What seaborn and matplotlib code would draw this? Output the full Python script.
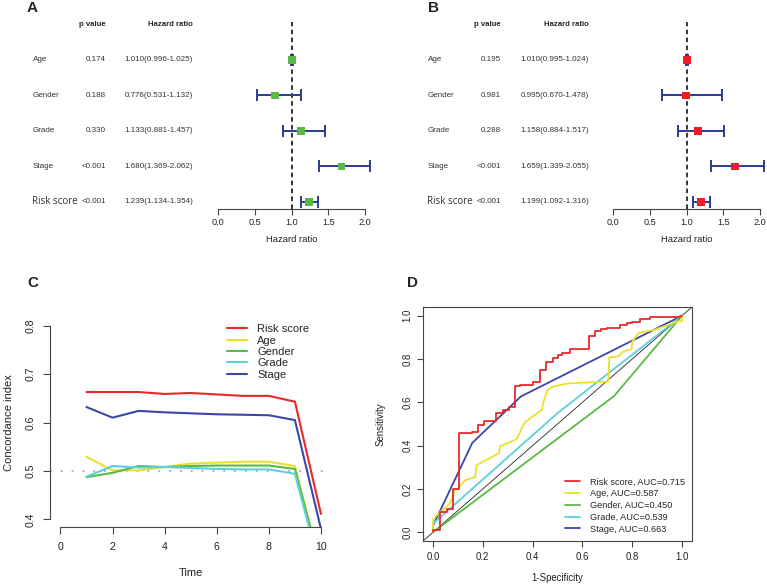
import numpy as np
import pandas as pd
import matplotlib
matplotlib.use("Agg")
from matplotlib import pyplot as plt
from matplotlib import transforms
from matplotlib.lines import Line2D
import seaborn as sns

W, H = 767, 585

# forest plot data (A = univariate, B = multivariate)
factors = ["Age", "Gender", "Grade", "Stage", "Risk score"]
a_pval = ["0.174", "0.188", "0.330", "<0.001", "<0.001"]
a_hr = [1.010, 0.776, 1.133, 1.680, 1.239]
a_low = [0.996, 0.531, 0.881, 1.369, 1.134]
a_high = [1.025, 1.132, 1.457, 2.062, 1.354]
b_pval = ["0.195", "0.981", "0.288", "<0.001", "<0.001"]
b_hr = [1.010, 0.995, 1.158, 1.659, 1.199]
b_low = [0.995, 0.670, 0.884, 1.339, 1.092]
b_high = [1.024, 1.478, 1.517, 2.055, 1.316]

# concordance index over time (C)
times = [1, 2, 3, 4, 5, 6, 7, 8, 9, 10]
cidx_risk = [0.663, 0.663, 0.663, 0.659, 0.661, 0.658, 0.655, 0.655, 0.643, 0.411]
cidx_age = [0.529, 0.501, 0.501, 0.508, 0.515, 0.517, 0.519, 0.519, 0.510, 0.300]
cidx_gender = [0.487, 0.496, 0.510, 0.508, 0.510, 0.511, 0.511, 0.511, 0.504, 0.300]
cidx_grade = [0.488, 0.510, 0.507, 0.508, 0.506, 0.504, 0.503, 0.503, 0.494, 0.290]
cidx_stage = [0.632, 0.610, 0.624, 0.621, 0.619, 0.617, 0.616, 0.615, 0.605, 0.380]

# ROC curves (D)
roc_risk_fpr = [0, 0, 0.03, 0.03, 0.055, 0.055, 0.08, 0.08, 0.105, 0.105, 0.155, 0.155, 0.18, 0.18,
                0.205, 0.205, 0.255, 0.255, 0.28, 0.28, 0.305, 0.305, 0.33, 0.33, 0.35, 0.35, 0.40, 0.40,
                0.43, 0.43, 0.455, 0.455, 0.48, 0.48, 0.50, 0.50, 0.52, 0.52, 0.55, 0.55, 0.625, 0.625,
                0.65, 0.65, 0.675, 0.675, 0.70, 0.70, 0.75, 0.75, 0.78, 0.78, 0.80, 0.80, 0.83, 0.83,
                0.87, 0.87, 0.99, 0.99, 1.0]
roc_risk_tpr = [0, 0.01, 0.01, 0.095, 0.095, 0.11, 0.11, 0.20, 0.20, 0.457, 0.457, 0.462, 0.462, 0.495,
                0.495, 0.515, 0.515, 0.552, 0.552, 0.563, 0.563, 0.578, 0.578, 0.676, 0.676, 0.682, 0.682,
                0.694, 0.694, 0.75, 0.75, 0.786, 0.786, 0.804, 0.804, 0.82, 0.82, 0.83, 0.83, 0.845,
                0.845, 0.905, 0.905, 0.93, 0.93, 0.938, 0.938, 0.943, 0.943, 0.958, 0.958, 0.965, 0.965,
                0.972, 0.972, 0.985, 0.985, 0.995, 0.995, 1.0, 1.0]
roc_age_fpr = [0, 0, 0.03, 0.068, 0.088, 0.103, 0.128, 0.17, 0.175, 0.265, 0.27, 0.336, 0.367, 0.403,
               0.437, 0.443, 0.46, 0.476, 0.51, 0.55, 0.704, 0.708, 0.744, 0.764, 0.798, 0.80, 0.825,
               0.89, 0.945, 0.985, 1.0, 1.0]
roc_age_tpr = [0, 0.06, 0.095, 0.133, 0.194, 0.205, 0.24, 0.256, 0.31, 0.365, 0.398, 0.43, 0.506, 0.537,
               0.565, 0.60, 0.657, 0.67, 0.68, 0.688, 0.696, 0.808, 0.812, 0.835, 0.846, 0.88, 0.92,
               0.935, 0.958, 0.974, 0.974, 1.0]
roc_gender_fpr = [0, 0.727, 1.0]
roc_gender_tpr = [0, 0.629, 1.0]
roc_grade_fpr = [0, 0, 0.5, 1.0]
roc_grade_tpr = [0, 0.04, 0.55, 1.0]
roc_stage_fpr = [0, 0, 0.158, 0.353, 1.0]
roc_stage_tpr = [0, 0.03, 0.413, 0.627, 1.0]
auc_values = ["0.715", "0.587", "0.450", "0.539", "0.663"]

var_names = ["Risk score", "Age", "Gender", "Grade", "Stage"]
line_colors = ["#E62A2A", "#E8E22E", "#58BB45", "#5ECFDB", "#3A48A8"]
navy = "#2B3A98"

sns.set_theme(style="ticks")
plt.rcParams["font.family"] = ["Liberation Sans", "DejaVu Sans"]
plt.rcParams["axes.edgecolor"] = "#444444"
plt.rcParams["xtick.color"] = "#444444"
plt.rcParams["ytick.color"] = "#444444"
plt.rcParams["xtick.labelcolor"] = "#222222"
plt.rcParams["ytick.labelcolor"] = "#222222"

fig = plt.figure(figsize=(W / 100, H / 100), dpi=100)


def add_ax(left, top, right, bottom):
    return fig.add_axes([left / W, 1 - bottom / H, (right - left) / W, (bottom - top) / H])


def forest(ax, pvals, hr, low, high, color, x_lab, x_p, x_hr):
    rows = np.arange(len(factors))[::-1]
    df = pd.DataFrame({"factor": factors, "row": rows, "hr": hr, "low": low, "high": high})
    ax.axvline(1, color="black", ls=(0, (3, 2.2)), lw=1.1, zorder=1)
    ax.errorbar(df["hr"], df["row"], xerr=[df["hr"] - df["low"], df["high"] - df["hr"]],
                fmt="none", ecolor=navy, elinewidth=1.4, capsize=4, capthick=1.4,
                clip_on=False, zorder=2)
    sns.scatterplot(data=df, x="hr", y="row", marker="s", s=30, color=color, edgecolor="none",
                    ax=ax, zorder=3, clip_on=False)
    ax.set_xlim(0, 2)
    ax.set_ylim(-0.2, 5.07)
    for s in ["left", "top", "right"]:
        ax.spines[s].set_visible(False)
    ax.spines["bottom"].set_bounds(0, 2)
    ax.spines["bottom"].set_linewidth(0.8)
    ax.set_yticks([])
    ax.set_xticks([0, 0.5, 1.0, 1.5, 2.0])
    ax.set_xticklabels(["0.0", "0.5", "1.0", "1.5", "2.0"])
    ax.tick_params(axis="x", length=4, width=0.8, pad=2.5, labelsize=6.6)
    ax.set_xlabel("Hazard ratio", fontsize=6.8, labelpad=6, color="#222222")
    ax.set_ylabel("")
    tr = transforms.blended_transform_factory(fig.transFigure, ax.transData)
    ax.text(x_p / W, 5.0, "p value", transform=tr, ha="right", va="center",
            fontsize=5.6, fontweight="bold")
    ax.text(x_hr / W, 5.0, "Hazard ratio", transform=tr, ha="right", va="center",
            fontsize=5.6, fontweight="bold")
    for name, r, p, h, lo, hi in zip(factors, rows, pvals, hr, low, high):
        if name == "Risk score":
            ax.text((x_lab - 1) / W, r, name, transform=tr, ha="left", va="center",
                    fontsize=7, family=["Open Sans", "DejaVu Sans"], color="#333333")
        else:
            ax.text(x_lab / W, r, name, transform=tr, ha="left", va="center", fontsize=5.8,
                    color="#333333")
        ax.text(x_p / W, r, p, transform=tr, ha="right", va="center", fontsize=5.8, color="#333333")
        ax.text(x_hr / W, r, f"{h:.3f}({lo:.3f}-{hi:.3f})", transform=tr, ha="right",
                va="center", fontsize=5.8, color="#333333")


ax_a = add_ax(218, 22, 365, 209)
forest(ax_a, a_pval, a_hr, a_low, a_high, "#5CB947", 33, 106, 193)
ax_b = add_ax(613, 22, 760, 209)
forest(ax_b, b_pval, b_hr, b_low, b_high, "#EE1C25", 428, 501, 589)

# C: concordance index
ax_c = add_ax(50, 318, 331.4, 527)
cdf = pd.DataFrame({
    "Time": times * 5,
    "C": cidx_risk + cidx_age + cidx_gender + cidx_grade + cidx_stage,
    "Variable": np.repeat(var_names, len(times)),
})
ax_c.axhline(0.5, color="#AAAAAA", ls=(0, (1, 5)), lw=1.3, zorder=1)
sns.lineplot(data=cdf, x="Time", y="C", hue="Variable", hue_order=var_names,
             palette=line_colors, lw=1.5, ax=ax_c, legend=False, zorder=3)
ax_c.set_xlim(-0.4, 10.4)
ax_c.set_ylim(0.384, 0.816)
for s in ["top", "right"]:
    ax_c.spines[s].set_visible(False)
ax_c.spines["left"].set_bounds(0.4, 0.8)
ax_c.spines["bottom"].set_bounds(0, 10)
ax_c.spines["left"].set_linewidth(0.8)
ax_c.spines["bottom"].set_linewidth(0.8)
ax_c.set_xticks([0, 2, 4, 6, 8, 10])
ax_c.set_yticks([0.4, 0.5, 0.6, 0.7, 0.8])
ax_c.set_yticklabels(["0.4", "0.5", "0.6", "0.7", "0.8"], rotation=90, va="center")
ax_c.tick_params(length=5, width=0.8, labelsize=7.6)
ax_c.tick_params(axis="x", pad=6)
ax_c.tick_params(axis="y", pad=5)
ax_c.set_xlabel("Time", fontsize=8, labelpad=11, color="#222222")
ax_c.set_ylabel("Concordance index", fontsize=8, labelpad=9, color="#222222")
handles = [Line2D([], [], color=c, lw=1.5) for c in line_colors]
ax_c.legend(handles, var_names, loc="upper left", bbox_to_anchor=(0.629, 0.97), frameon=False,
            fontsize=8, handlelength=1.8, handletextpad=0.9, labelspacing=0.12, borderpad=0,
            borderaxespad=0)

# D: ROC curves
ax_d = add_ax(423, 307, 692, 541)
roc_fpr = [roc_risk_fpr, roc_age_fpr, roc_gender_fpr, roc_grade_fpr, roc_stage_fpr]
roc_tpr = [roc_risk_tpr, roc_age_tpr, roc_gender_tpr, roc_grade_tpr, roc_stage_tpr]
rdf = pd.concat([pd.DataFrame({"fpr": f, "tpr": t, "Variable": n})
                 for f, t, n in zip(roc_fpr, roc_tpr, var_names)], ignore_index=True)
ax_d.plot([-0.04, 1.04], [-0.04, 1.04], color="#222222", lw=0.6, zorder=1)
sns.lineplot(data=rdf, x="fpr", y="tpr", hue="Variable", hue_order=var_names[::-1],
             palette=line_colors[::-1], sort=False, estimator=None, lw=1.3, ax=ax_d,
             legend=False, zorder=3)
ax_d.set_xlim(-0.04, 1.04)
ax_d.set_ylim(-0.04, 1.04)
for s in ax_d.spines.values():
    s.set_linewidth(0.8)
ticks = [0.0, 0.2, 0.4, 0.6, 0.8, 1.0]
ax_d.set_xticks(ticks)
ax_d.set_xticklabels([f"{t:.1f}" for t in ticks])
ax_d.set_yticks(ticks)
ax_d.set_yticklabels([f"{t:.1f}" for t in ticks], rotation=90, va="center")
ax_d.tick_params(length=4, width=0.8, labelsize=6.9)
ax_d.tick_params(axis="x", pad=4)
ax_d.tick_params(axis="y", pad=3.5)
ax_d.set_xlabel("1-Specificity", fontsize=6.9, labelpad=8, color="#222222")
ax_d.set_ylabel("Sensitivity", fontsize=6.9, labelpad=12, color="#222222")
handles = [Line2D([], [], color=c, lw=1.3) for c in line_colors]
labels = [f"{n}, AUC={a}" for n, a in zip(var_names, auc_values)]
ax_d.legend(handles, labels, loc="upper left", bbox_to_anchor=(0.528, 0.271), frameon=False,
            fontsize=6.6, handlelength=1.6, handletextpad=1.1, labelspacing=0.3, borderpad=0,
            borderaxespad=0)

# panel letters
for letter, x, y in [("A", 27, 8), ("B", 428, 8), ("C", 27, 283), ("D", 407, 283)]:
    fig.text(x / W, 1 - y / H, letter, fontsize=11, fontweight="bold", va="center", ha="left")

fig.savefig("out.png", dpi=100)
